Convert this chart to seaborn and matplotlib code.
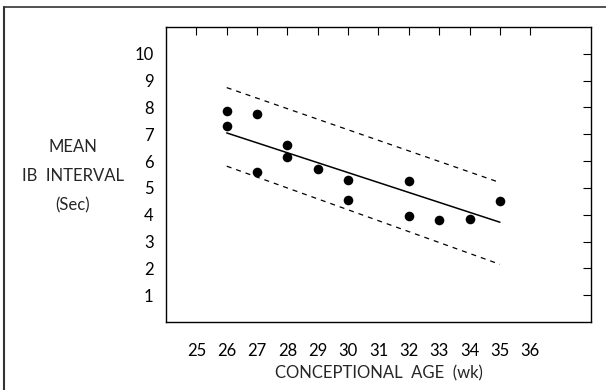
import numpy as np
import pandas as pd
import seaborn as sns
import matplotlib.pyplot as plt
from matplotlib.lines import Line2D

# observed points (conceptional age in weeks, mean IB interval in sec)
age = [26, 26, 27, 27, 28, 28, 29, 30, 30, 32, 32, 33, 34, 35]
interval = [7.85, 7.3, 7.75, 5.6, 6.6, 6.15, 5.7, 5.3, 4.55, 5.25, 3.95, 3.8, 3.85, 4.5]

# regression line and confidence band endpoints
line_age = [26, 35]
fit = [7.05, 3.72]
upper = [8.74, 5.2]
lower = [5.81, 2.15]

x_ticks = list(range(25, 37))
y_ticks = list(range(1, 11))


def main():
    sns.set_style("white")
    plt.rcParams['font.family'] = ['Lato', 'DejaVu Sans']

    fig = plt.figure(figsize=(6.06, 3.90), dpi=100)
    ax = fig.add_axes([166 / 606, 1 - 322 / 390, (591 - 166) / 606, (322 - 27) / 390])

    pts = pd.DataFrame({"age": age, "interval": interval})
    sns.scatterplot(data=pts, x="age", y="interval", ax=ax, color="black",
                    s=48, edgecolor="black", linewidth=0, zorder=3)

    lines = pd.DataFrame({"age": line_age, "fit": fit, "upper": upper, "lower": lower})
    sns.lineplot(data=lines, x="age", y="fit", ax=ax, color="black", lw=1.1)
    sns.lineplot(data=lines, x="age", y="upper", ax=ax, color="black", lw=0.9,
                 linestyle=(0, (4, 4)))
    sns.lineplot(data=lines, x="age", y="lower", ax=ax, color="black", lw=0.9,
                 linestyle=(0, (4, 4)))

    ax.set_xlim(24, 38)
    ax.set_ylim(0, 11)
    ax.set_xticks(x_ticks)
    ax.set_yticks(y_ticks)
    ax.tick_params(direction="in", length=6, width=0.8, top=True, right=True,
                   labelsize=12, pad=15, colors="black")
    ax.tick_params(axis="y", pad=9)
    for sp in ax.spines.values():
        sp.set_color("black")
        sp.set_linewidth(1.0)

    ax.set_xlabel("CONCEPTIONAL  AGE  (wk)", fontsize=12, labelpad=5)
    ax.set_ylabel("")
    fig.text(73 / 606, 1 - 176 / 390, "MEAN\nIB  INTERVAL\n(Sec)", ha="center",
             va="center", fontsize=12, linespacing=2.0)

    # outer frame
    fig.add_artist(Line2D([4 / 606, 4 / 606], [0, 1 - 7 / 390], color="#333333", lw=1.5,
                          transform=fig.transFigure))
    fig.add_artist(Line2D([4 / 606, 1], [1 - 7 / 390, 1 - 7 / 390], color="#333333", lw=1.2,
                          transform=fig.transFigure))

    fig.savefig("out.png", dpi=100)


if __name__ == "__main__":
    main()
